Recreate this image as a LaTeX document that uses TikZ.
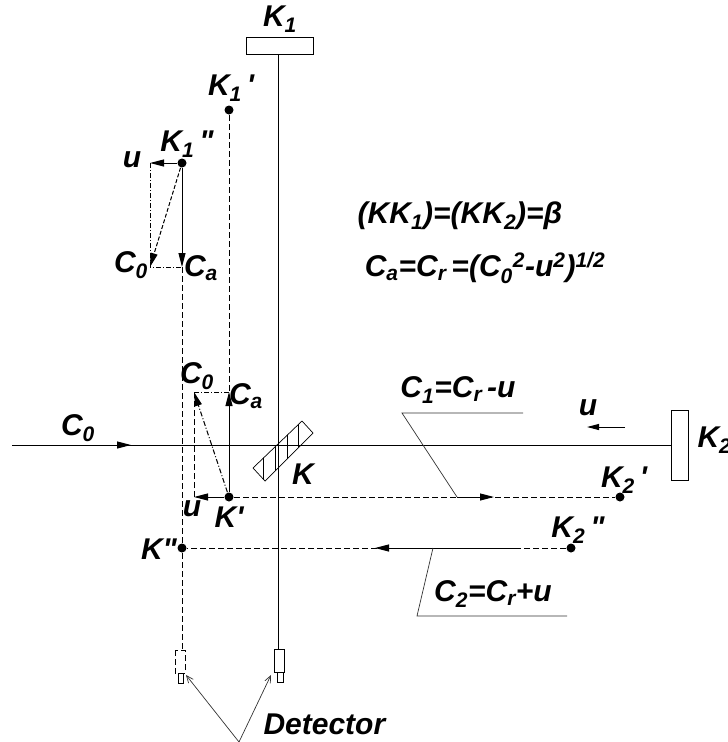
\documentclass[tikz,border=0pt]{standalone}
\usepackage{fontspec}
\setmainfont{Liberation Sans}
\usetikzlibrary{arrows.meta}
\begin{document}
\begin{tikzpicture}[x=1pt,y=-1pt, line width=1pt,
 lbl/.style={font=\bfseries\itshape\fontsize{30}{30}\selectfont, inner sep=0pt},
 dot/.style={circle,fill,inner sep=0pt,minimum size=9pt},
 arr/.style={-{Triangle[length=14pt,width=7pt]}},
 dsh/.style={dash pattern=on 6pt off 3pt},
 dd/.style={dash pattern=on 5pt off 2pt on 1pt off 2pt},
 lead/.style={line width=0.7pt, draw=black!80},
 box/.style={draw, fill=white, inner sep=0pt}]
\useasboundingbox (0,0) rectangle (728,742);
% coordinates
\coordinate (K1top) at (278,54);
\node[dot] (K1p) at (229,110) {};
\node[dot] (K1pp) at (182,163) {};
\coordinate (u1) at (150,163);
\coordinate (ca1) at (182,267);
\coordinate (c01) at (150,267);
\node[dot] (Kp) at (229,497) {};
\coordinate (u2) at (194,497);
\coordinate (ca2) at (229,392);
\coordinate (c02) at (194,392);
\node[dot] (Kpp) at (182,548) {};
\node[dot] (K2p) at (620,497) {};
\node[dot] (K2pp) at (571,548) {};
\coordinate (L0) at (12,445);
\coordinate (K2f) at (672,445);
% mirrors
\draw[box] (246,37) rectangle (313,54);
\node[lbl] (K1l) at (280,19) {K\textsubscript{1}};
\draw[box] (671,410) rectangle (688,480);
\node[lbl,anchor=west] (K2l) at (697,440) {K\textsubscript{2}};
% main lines
\draw (K1top) -- (278,649);
\draw (L0) -- (K2f);
\draw[arr] (113,445) -- (131,445);
\node[lbl] at (78,428) {C\textsubscript{0}};
% beam splitter
\begin{scope}
\path[clip] (253,468) -- (265,481) -- (313,433) -- (302,421) -- cycle;
\foreach \x in {263,275,287,298} \draw[line width=0.7pt] (\x,400) -- (\x,500);
\end{scope}
\draw[line width=0.7pt] (253,468) -- (265,481) -- (313,433) -- (302,421) -- cycle;
\node[lbl] at (303,474) {K};
% upper triangle
\draw[dsh] (K1p) -- (ca2);
\draw[arr] (K1pp) -- (u1);
\draw[arr] (K1pp) -- (ca1);
\draw[arr,dash pattern=on 4pt off 2pt] (K1pp) -- (c01);
\draw[dd] (u1) -- (c01) -- (ca1);
\node[lbl] at (231,88) {K\textsubscript{1}\,\textquotesingle};
\node[lbl] at (187,144) {K\textsubscript{1}\,\textquotedbl};
\node[lbl] at (132,160) {u};
\node[lbl] at (131,265) {C\textsubscript{0}};
\node[lbl] at (201,268) {C\textsubscript{a}};
% lower triangle
\draw[dsh] (ca1) -- (Kpp);
\draw[dsh] (Kpp) -- (182,650);
\draw[arr] (Kp) -- (u2);
\draw[arr] (Kp) -- (ca2);
\draw[arr,dd] (Kp) -- (c02);
\draw[dd] (c02) -- (ca2);
\draw[dsh] (u2) -- (c02);
\node[lbl] at (197,376) {C\textsubscript{0}};
\node[lbl] at (246,396) {C\textsubscript{a}};
\node[lbl] at (192,509) {u};
\node[lbl] at (229,517) {K\textquotesingle};
\node[lbl] at (159,549) {K\textquotedbl};
% horizontal return beams
\draw[dsh] (Kp) -- (K2p);
\draw[arr] (457,497) -- (494,497);
\draw[dsh] (K2pp) -- (Kpp);
\draw[arr] (517,548) -- (375,548);
\node[lbl] at (624,480) {K\textsubscript{2}\,\textquotesingle};
\node[lbl] at (578,530) {K\textsubscript{2}\,\textquotedbl};
% leaders
\draw[lead] (457,497) -- (402,413) -- (523,413);
\node[lbl] at (458,390) {C\textsubscript{1}=C\textsubscript{r}\,-u};
\draw[lead] (433,548) -- (417,616) -- (567,616);
\node[lbl] at (493,594) {C\textsubscript{2}=C\textsubscript{r}+u};
% u arrow near K2
\draw[-{Triangle[length=12pt,width=6pt]}] (625,427) -- (587,427);
\node[lbl] at (588,408) {u};
% formulas
\node[lbl] at (460,216) {(KK\textsubscript{1})=(KK\textsubscript{2})=β};
\node[lbl] at (485,268) {C\textsubscript{a}=C\textsubscript{r}\,=(C\textsubscript{0}\textsuperscript{2}-u\textsuperscript{2})\textsuperscript{1/2}};
% detectors
\draw[box,dsh,line width=0.8pt] (175,650) rectangle (185,673);
\draw[box,line width=0.8pt] (178,673) rectangle (183,683);
\draw[box,line width=0.8pt] (274,649) rectangle (284,672);
\draw[box,line width=0.8pt] (277,672) rectangle (283,682);
\coordinate (dl) at (186,675);
\coordinate (dr) at (271,675);
\coordinate (dv) at (239,742);
\draw[lead,-{Straight Barb[length=7pt,width=6pt]}] (dv) -- (dl);
\draw[lead,-{Straight Barb[length=7pt,width=6pt]}] (dv) -- (dr);
\node[lbl,anchor=west] at (263,724) {Detector};
\end{tikzpicture}
\end{document}
